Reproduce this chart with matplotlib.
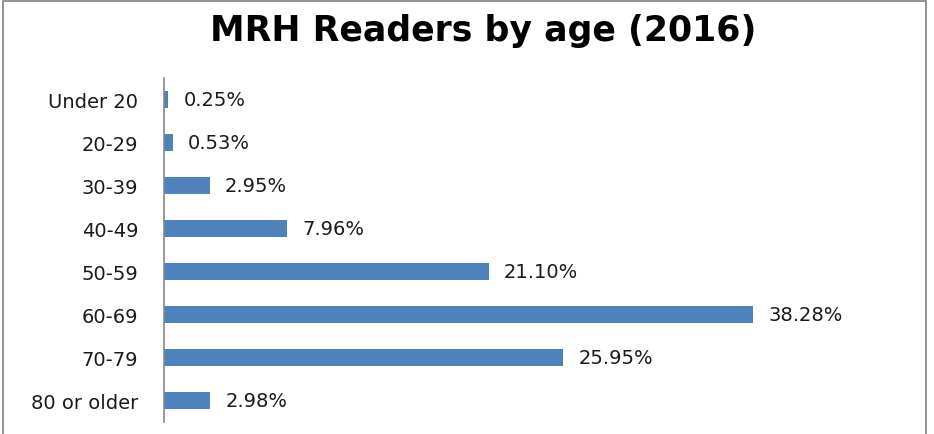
import matplotlib.pyplot as plt
from matplotlib.patches import Rectangle

# === Data ===
age_groups = ['Under 20', '20-29', '30-39', '40-49', '50-59', '60-69', '70-79', '80 or older']
share_pct = [0.25, 0.53, 2.95, 7.96, 21.10, 38.28, 25.95, 2.98]
value_labels = ['0.25%', '0.53%', '2.95%', '7.96%', '21.10%', '38.28%', '25.95%', '2.98%']

plt.rcParams['font.family'] = ['DejaVu Sans']

fig = plt.figure(figsize=(9.34, 4.35), dpi=100)
ax = fig.add_axes([0.1761, 0.0276, 0.7404, 0.7908])

ypos = list(range(len(age_groups)))
ax.barh(ypos, share_pct, height=0.4, color='#4F81BD')
for y, v, lab in zip(ypos, share_pct, value_labels):
    ax.annotate(lab, (v, y), xytext=(11, 0), textcoords='offset points',
                va='center', ha='left', fontsize=14, color='#1a1a1a')

ax.set_yticks(ypos)
ax.set_yticklabels(age_groups, fontsize=14, color='#1a1a1a')
ax.set_ylim(len(age_groups) - 0.5, -0.5)
ax.set_xlim(0, 45)
ax.set_xticks([])
ax.tick_params(axis='y', length=0, pad=19)
for side in ['top', 'right', 'bottom']:
    ax.spines[side].set_visible(False)
ax.spines['left'].set_color('#888888')
ax.spines['left'].set_linewidth(1.2)

fig.text(0.5177, 0.928, 'MRH Readers by age (2016)', ha='center', va='center',
         fontsize=25, fontweight='bold', color='#000000')

# outer chart border
fig.patches.append(Rectangle((3 / 934, -0.05), 923 / 934, 1.05 - 1.5 / 435,
                             transform=fig.transFigure, fill=False,
                             edgecolor='#808080', linewidth=1.2))

fig.savefig('out.png', dpi=100)
